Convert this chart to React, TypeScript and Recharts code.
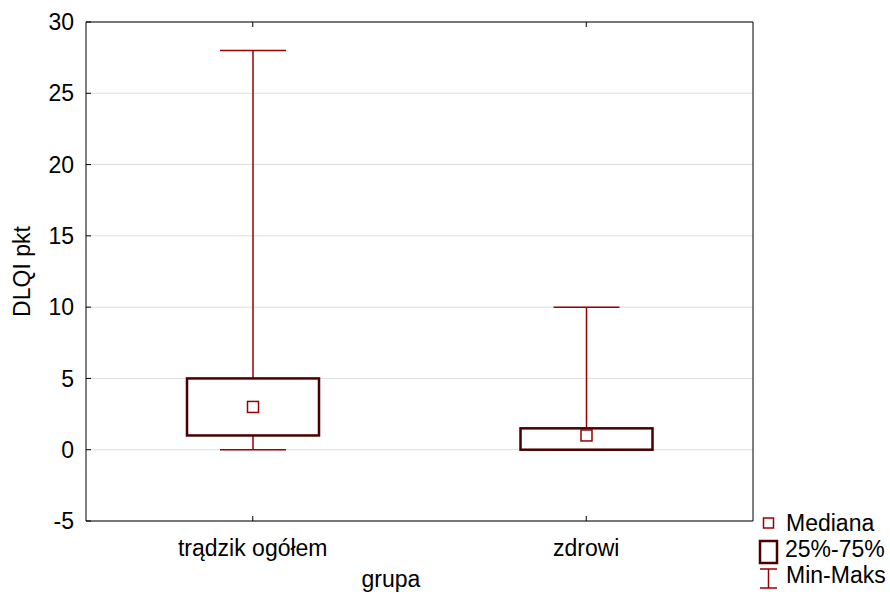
import React from "react";
import { Bar, CartesianGrid, ComposedChart, XAxis, YAxis } from "recharts";

const categories = ["trądzik ogółem", "zdrowi"];
const minVals = [0, 0];
const q1Vals = [1, 0];
const medianVals = [3, 1];
const q3Vals = [5, 1.5];
const maxVals = [28, 10];
const yTicks = [-5, 0, 5, 10, 15, 20, 25, 30];

const data = categories.map((name, i) => ({
  name,
  range: [minVals[i], maxVals[i]],
  min: minVals[i],
  q1: q1Vals[i],
  median: medianVals[i],
  q3: q3Vals[i],
  max: maxVals[i],
}));

const FONT = "'Liberation Sans', Arial, sans-serif";
const FS = 23;
const WHISKER = "#990000";
const BOX = "#4a0000";

function BoxShape(props: any) {
  const { x, y, width, height, payload } = props;
  const { min, q1, median, q3, max } = payload;
  const k = height / (max - min);
  const py = (v: number) => y + (max - v) * k;
  const cx = x + width / 2;
  const cap = width / 4;
  const m = 5.5;
  return (
    <g>
      <line x1={cx} x2={cx} y1={py(max)} y2={py(q3)} stroke={WHISKER} strokeWidth={1.5} />
      <line x1={cx} x2={cx} y1={py(q1)} y2={py(min)} stroke={WHISKER} strokeWidth={1.5} />
      <line x1={cx - cap} x2={cx + cap} y1={py(max)} y2={py(max)} stroke={WHISKER} strokeWidth={1.5} />
      <line x1={cx - cap} x2={cx + cap} y1={py(min)} y2={py(min)} stroke={WHISKER} strokeWidth={1.5} />
      <rect
        x={x}
        y={py(q3)}
        width={width}
        height={py(q1) - py(q3)}
        fill="#ffffff"
        stroke={BOX}
        strokeWidth={2.5}
      />
      <rect x={cx - m} y={py(median) - m} width={m * 2} height={m * 2} fill="none" stroke={WHISKER} strokeWidth={1.5} />
    </g>
  );
}

function LegendBox() {
  const t = { fontFamily: FONT, fontSize: FS, fill: "#000" };
  return (
    <svg width={134} height={90} style={{ position: "absolute", left: 756, top: 508 }}>
      <rect x={7.5} y={10} width={10} height={10} fill="none" stroke={WHISKER} strokeWidth={1.5} />
      <text x={30} y={15} dy="0.355em" {...t}>Mediana</text>
      <rect x={4} y={33} width={17} height={22} fill="none" stroke={BOX} strokeWidth={2.5} />
      <text x={29} y={41} dy="0.355em" {...t}>25%-75%</text>
      <line x1={12.5} x2={12.5} y1={61} y2={80} stroke={WHISKER} strokeWidth={1.5} />
      <line x1={4} x2={21} y1={61} y2={61} stroke={WHISKER} strokeWidth={1.5} />
      <line x1={4} x2={21} y1={80} y2={80} stroke={WHISKER} strokeWidth={1.5} />
      <text x={30} y={67} dy="0.355em" {...t}>Min-Maks</text>
    </svg>
  );
}

export default function App() {
  const tick = { fill: "#000", fontSize: FS, fontFamily: FONT };
  return (
    <div style={{ position: "absolute", left: 0, top: 0, width: 890, height: 599, background: "#fff" }}>
      <ComposedChart width={890} height={599} data={data} margin={{ top: 17, right: 127, bottom: 0, left: 0 }}>
        <CartesianGrid vertical={false} stroke="#dedede" />
        <XAxis
          dataKey="name"
          tick={tick}
          tickSize={-5}
          tickMargin={24}
          stroke="#000"
          height={78}
          label={{
            content: () => (
              <text x={391} y={587} textAnchor="middle" style={{ fontFamily: FONT, fontSize: FS }} fill="#000">
                grupa
              </text>
            ),
          }}
        />
        <XAxis xAxisId="top" dataKey="name" orientation="top" height={5} tickSize={-5} tickFormatter={() => ""} stroke="#000" />
        <YAxis
          type="number"
          domain={[-5, 30]}
          ticks={yTicks}
          tick={tick}
          tickSize={-5}
          tickMargin={17}
          width={86}
          stroke="#000"
          label={{
            value: "DLQI pkt",
            angle: -90,
            position: "insideLeft",
            offset: 0,
            dx: 22,
            style: { fontFamily: FONT, fontSize: FS, fill: "#000", textAnchor: "middle" },
          }}
        />
        <YAxis
          yAxisId="right"
          orientation="right"
          type="number"
          domain={[-5, 30]}
          ticks={yTicks}
          width={10}
          tickSize={-5}
          tickFormatter={() => ""}
          stroke="#000"
        />
        <Bar dataKey="range" barSize={132} shape={<BoxShape />} isAnimationActive={false} />
      </ComposedChart>
      <LegendBox />
    </div>
  );
}
